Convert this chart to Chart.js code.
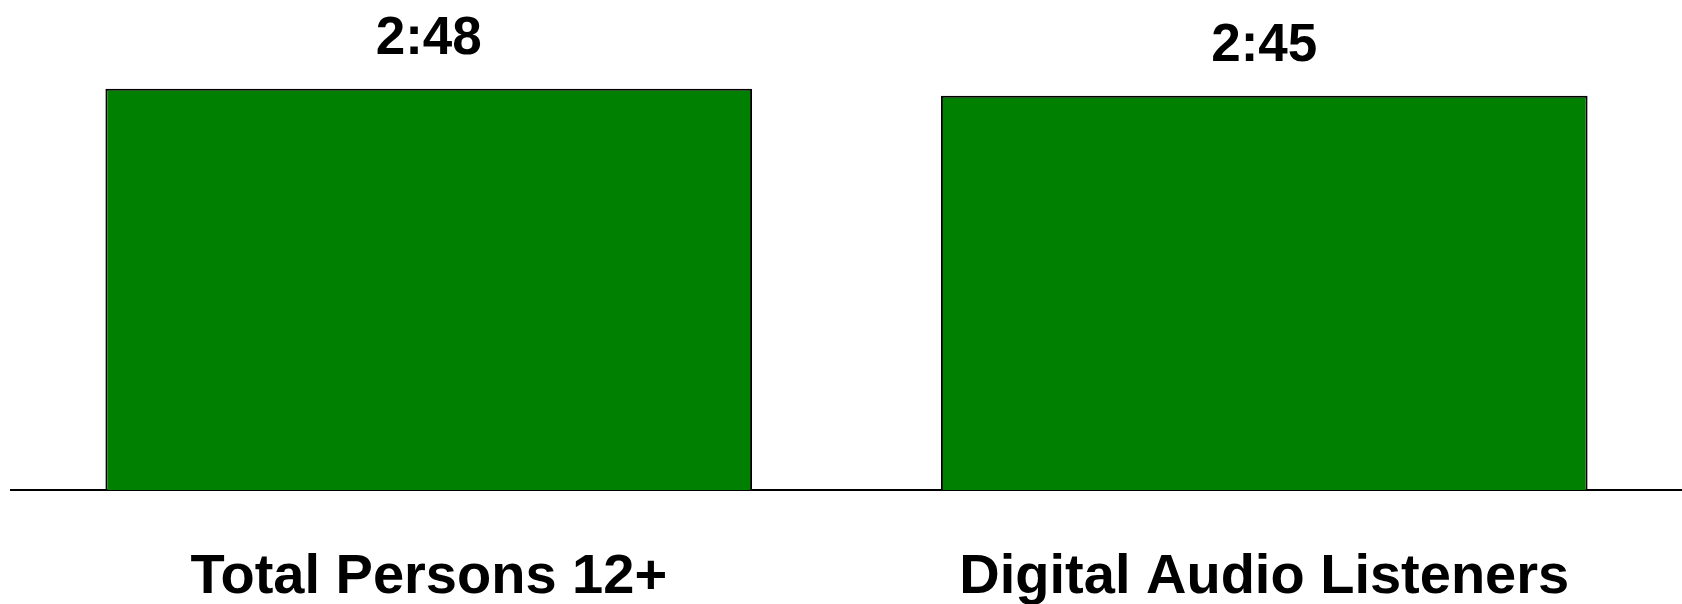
<!DOCTYPE html>
<html>
<head>
<meta charset="utf-8">
<script src="https://cdn.jsdelivr.net/npm/chart.js@4/dist/chart.umd.min.js"></script>
<style>
html, body { margin: 0; padding: 0; background: #fff; }
#wrap { width: 1682px; height: 604px; }
</style>
</head>
<body>
<div id="wrap"><canvas id="TimeChart" width="1682" height="604"></canvas></div>
<script>
// time spent listening, in minutes
const groups = ['Total Persons 12+', 'Digital Audio Listeners'];
const minutes = [168, 165];

function toClock(m) {
    let h = Math.floor(m / 60);
    let mm = m % 60;
    return h + ':' + (mm < 10 ? '0' + mm : mm);
}

// draws the h:mm value above each bar
const valueLabels = {
    id: 'valueLabels',
    afterDatasetsDraw(chart) {
        const ctx = chart.ctx;
        const meta = chart.getDatasetMeta(0);
        ctx.save();
        ctx.font = 'bold 53px "Liberation Sans", Arial, sans-serif';
        ctx.fillStyle = '#000';
        ctx.textAlign = 'center';
        ctx.textBaseline = 'alphabetic';
        meta.data.forEach(function(bar, i) {
            ctx.fillText(toClock(chart.data.datasets[0].data[i]), bar.x, bar.y - 35);
        });
        ctx.restore();
    }
};

let myChart = document.getElementById('TimeChart').getContext('2d');
let timeChart = new Chart(myChart, {
    type: 'bar',
    data: {
        labels: groups,
        datasets: [{
            data: minutes,
            backgroundColor: '#008000',
            borderColor: '#000',
            borderWidth: 2,
            barPercentage: 0.774,
            categoryPercentage: 1
        }]
    },
    options: {
        responsive: false,
        animation: false,
        layout: {
            // the x axis box comes out taller than its labels, pull it back down
            padding: { top: 60, left: 11, right: -7, bottom: -62 }
        },
        scales: {
            y: {
                display: false,
                min: 0,
                max: 180
            },
            x: {
                grid: { display: false, drawTicks: false },
                border: { display: true, color: '#000', width: 2 },
                ticks: {
                    color: '#000',
                    padding: 60,
                    maxRotation: 0,
                    font: {
                        family: '"Liberation Sans", Arial, sans-serif',
                        size: 56,
                        weight: 'bold',
                        lineHeight: 1.0
                    }
                }
            }
        },
        plugins: {
            legend: { display: false },
            tooltip: { enabled: false }
        }
    },
    plugins: [valueLabels]
});
</script>
</body>
</html>
